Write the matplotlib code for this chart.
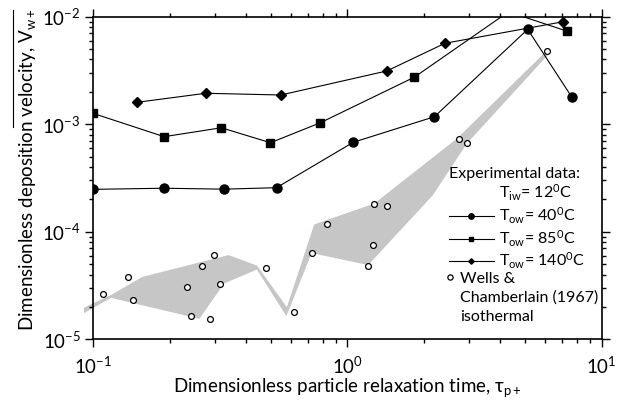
import numpy as np
import matplotlib
matplotlib.use('Agg')
import matplotlib.pyplot as plt
from matplotlib.lines import Line2D
from matplotlib.patches import Rectangle

plt.rcParams['font.family'] = ['Lato', 'DejaVu Sans']
plt.rcParams['mathtext.fontset'] = 'custom'
plt.rcParams['mathtext.rm'] = 'Lato'
plt.rcParams['mathtext.it'] = 'Lato:italic'
plt.rcParams['mathtext.bf'] = 'Lato:bold'
plt.rcParams['axes.unicode_minus'] = False

# deposition data, T_iw = 12 C
tau_40 = [0.10, 0.19, 0.327, 0.526, 1.054, 2.20, 5.12, 7.62]
vel_40 = [2.48e-4, 2.54e-4, 2.49e-4, 2.57e-4, 6.79e-4, 1.175e-3, 7.63e-3, 1.80e-3]

tau_85 = [0.10, 0.19, 0.319, 0.498, 0.781, 1.835, 4.30, 7.28]
vel_85 = [1.26e-3, 7.66e-4, 9.27e-4, 6.73e-4, 1.03e-3, 2.74e-3, 1.11e-2, 7.36e-3]

tau_140 = [0.149, 0.277, 0.547, 1.43, 2.42, 7.06]
vel_140 = [1.60e-3, 1.94e-3, 1.87e-3, 3.13e-3, 5.66e-3, 8.98e-3]

# Wells & Chamberlain (1967), isothermal
tau_wc = [0.1095, 0.1373, 0.143, 0.233, 0.242, 0.269, 0.299, 0.316, 0.288,
          0.478, 0.618, 0.725, 0.831, 1.207, 1.256, 1.275, 1.426, 2.754,
          2.944, 6.08]
vel_wc = [2.62e-5, 3.81e-5, 2.30e-5, 3.06e-5, 1.66e-5, 4.83e-5, 6.07e-5,
          3.26e-5, 1.54e-5, 4.57e-5, 1.78e-5, 6.30e-5, 1.17e-4, 4.80e-5,
          7.52e-5, 1.81e-4, 1.75e-4, 7.24e-4, 6.64e-4, 4.80e-3]

# scatter band outline: upper edge left->right, lower edge right->left
band_up_x = [0.0919, 0.1174, 0.1562, 0.3409, 0.4406, 0.578, 0.740, 1.275, 2.697, 6.04]
band_up_y = [1.97e-5, 2.58e-5, 3.81e-5, 6.07e-5, 4.85e-5, 1.99e-5, 1.17e-4, 1.83e-4, 7.36e-4, 4.74e-3]
band_lo_x = [6.20, 2.95, 2.169, 1.207, 0.723, 0.575, 0.4406, 0.3267, 0.2617, 0.1174, 0.0919]
band_lo_y = [4.50e-3, 6.61e-4, 2.19e-4, 4.9e-5, 6.34e-5, 1.64e-5, 4.45e-5, 3.30e-5, 1.55e-5, 2.43e-5, 1.75e-5]

fig = plt.figure(figsize=(6.26, 4.09), dpi=100)
ax = fig.add_axes([0.149, 0.1704, 0.812, 0.7888])
ax.set_xscale('log')
ax.set_yscale('log')

ax.fill(band_up_x + band_lo_x, band_up_y + band_lo_y, color='#c6c6c6',
        lw=0, zorder=1, clip_on=False)

h40, = ax.plot(tau_40, vel_40, 'k-', marker='o', ms=6.5, lw=0.8, zorder=3)
h85, = ax.plot(tau_85, vel_85, 'k-', marker='s', ms=5.6, lw=0.8, zorder=3)
h140, = ax.plot(tau_140, vel_140, 'k-', marker='D', ms=4.6, lw=0.8, zorder=3)
hwc, = ax.plot(tau_wc, vel_wc, ls='none', marker='o', ms=4.2, mfc='white',
               mec='k', mew=0.9, zorder=4)

ax.set_xlim(0.1, 10)
ax.set_ylim(1e-5, 1e-2)

for s in ax.spines.values():
    s.set_linewidth(1.2)
ax.tick_params(which='both', direction='out', top=True, right=True, width=1)
ax.tick_params(which='major', length=6, labelsize=13.5)
ax.tick_params(axis='x', which='major', pad=5.5)
ax.tick_params(axis='y', which='major', pad=3)
ax.tick_params(which='minor', length=3)

ax.set_xlabel('Dimensionless particle relaxation time, τ$_{\\rm p+}$', fontsize=13.5)
ax.set_ylabel('Dimensionless deposition velocity, V$_{\\rm w+}$', fontsize=13.5)
ax.xaxis.set_label_coords(0.5, -0.163)
ax.xaxis.label.set_va('baseline')
ax.yaxis.set_label_coords(-0.109, 0.525)

# bar drawn over the velocity symbol
fig.add_artist(Line2D([0.0208, 0.0208], [0.9756, 0.6895], color='k', lw=0.8))

blank = Rectangle((0, 0), 1, 1, fc='none', ec='none', lw=0)
leg1 = ax.legend([blank, h40, h85, h140],
                 ['T$_{\\rm iw}$= 12$^{\\rm 0}$C', 'T$_{\\rm ow}$= 40$^{\\rm 0}$C',
                  'T$_{\\rm ow}$= 85$^{\\rm 0}$C', 'T$_{\\rm ow}$= 140$^{\\rm 0}$C'],
                 title='Experimental data:', title_fontsize=11.5, fontsize=11.5,
                 alignment='left', frameon=False, loc='upper left',
                 bbox_to_anchor=(0.70, 0.535), borderpad=0, borderaxespad=0,
                 handlelength=2.8, handletextpad=0.3, labelspacing=0.15,
                 markerscale=0.6)
ax.add_artist(leg1)
ax.legend([hwc, blank, blank], ['Wells &', 'Chamberlain (1967)', 'isothermal'],
          fontsize=11.5, frameon=False, loc='upper left',
          bbox_to_anchor=(0.692, 0.21), borderpad=0, borderaxespad=0,
          handlelength=0.6, handletextpad=0.35, labelspacing=0.29,
          markerscale=0.9)

fig.savefig('out.png', dpi=100)
